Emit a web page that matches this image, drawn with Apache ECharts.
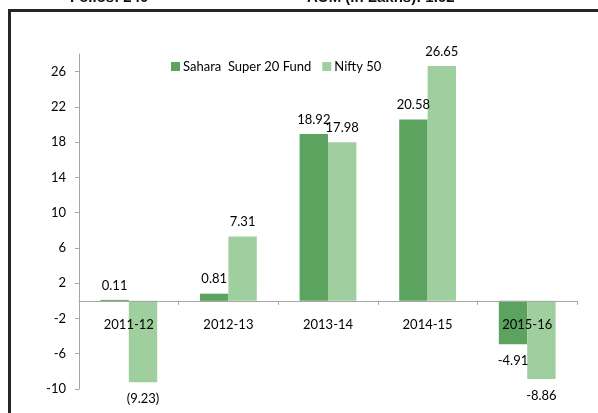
<!DOCTYPE html>
<html>
<head>
<meta charset="utf-8">
<script src="https://cdn.jsdelivr.net/npm/echarts@6/dist/echarts.min.js"></script>
<style>html,body{margin:0;padding:0;background:#fff;}#c{width:598px;height:413px;}</style>
</head>
<body>
<div id="c"></div>
<script>
const categories = ['2011-12', '2012-13', '2013-14', '2014-15', '2015-16'];
const fundName = 'Sahara  Super 20 Fund';
const niftyName = 'Nifty 50';
const fundValues = [0.11, 0.81, 18.92, 20.58, -4.91];
const niftyValues = [-9.23, 7.31, 17.98, 26.65, -8.86];
const fundLabels = ['0.11', '0.81', '18.92', '20.58', '-4.91'];
const niftyLabels = ['(9.23)', '7.31', '17.98', '26.65', '-8.86'];
const yTicks = [-10, -6, -2, 2, 6, 10, 14, 18, 22, 26];
const headerTexts = ['Folios: 240', 'AUM (in Lakhs): 1.62'];

const FONT = 'Lato';
const Y_MIN = -10, Y_MAX = 28;
const GRID_TOP = 54, GRID_BOTTOM = 24, H = 413;
// shift the category axis up so it sits on the value-axis zero line
const plotH = H - GRID_TOP - GRID_BOTTOM;
const zeroOffset = -plotH * (0 - Y_MIN) / (Y_MAX - Y_MIN);

function mk(values, labels) {
  return values.map((v, i) => ({
    value: v,
    label: { position: v < 0 ? 'bottom' : 'top', distance: v < 0 ? 10 : 8, formatter: labels[i] }
  }));
}
const chart = echarts.init(document.getElementById('c'), null, { renderer: 'canvas' });
chart.setOption({
  animation: false,
  backgroundColor: '#fff',
  textStyle: { fontFamily: FONT },
  grid: { left: 79, right: 21, top: GRID_TOP, bottom: GRID_BOTTOM, containLabel: false, outerBoundsMode: 'none' },
  legend: {
    left: 166, top: 55, itemWidth: 9, itemHeight: 9, itemGap: 11, icon: 'rect',
    textStyle: { fontFamily: FONT, fontSize: 13, color: '#000', padding: [0, 0, 0, -2] },
    data: [fundName, niftyName]
  },
  xAxis: {
    type: 'category', data: categories, z: 5, position: 'bottom', offset: zeroOffset,
    axisLine: { onZero: false, lineStyle: { color: '#a6a6a6', width: 1 } },
    axisTick: { show: true, length: 4, lineStyle: { color: '#a6a6a6' } },
    axisLabel: { margin: 17, fontFamily: FONT, fontSize: 13, color: '#000' },
    splitLine: { show: false }
  },
  yAxis: {
    type: 'value', min: Y_MIN, max: Y_MAX,
    axisLine: { show: true, lineStyle: { color: '#a6a6a6' } },
    axisTick: { show: true, length: 4, lineStyle: { color: '#a6a6a6' }, customValues: yTicks },
    axisLabel: { margin: 13, fontFamily: FONT, fontSize: 13, color: '#000', customValues: yTicks },
    splitLine: { show: false }
  },
  series: [
    {
      name: fundName, type: 'bar', data: mk(fundValues, fundLabels),
      barGap: '0%', barCategoryGap: '43%',
      itemStyle: { color: '#5ba35e' },
      label: { show: true, fontFamily: FONT, fontSize: 13, color: '#000' }
    },
    {
      name: niftyName, type: 'bar', data: mk(niftyValues, niftyLabels),
      barGap: '0%', barCategoryGap: '43%',
      itemStyle: { color: '#9fcf9f' },
      label: { show: true, fontFamily: FONT, fontSize: 13, color: '#000' }
    }
  ],
  graphic: [
    { type: 'line', shape: { x1: 9.5, y1: 9, x2: 9.5, y2: 413 }, style: { stroke: '#262626', lineWidth: 3 } },
    { type: 'line', shape: { x1: 8, y1: 10.5, x2: 598, y2: 10.5 }, style: { stroke: '#262626', lineWidth: 3 } },
    { type: 'text', left: 70, top: -10, style: { text: headerTexts[0], font: 'bold 15px Arial', fill: '#111' } },
    { type: 'text', left: 307, top: -10, style: { text: headerTexts[1], font: 'bold 15px Arial', fill: '#111' } }
  ]
});
</script>
</body>
</html>
